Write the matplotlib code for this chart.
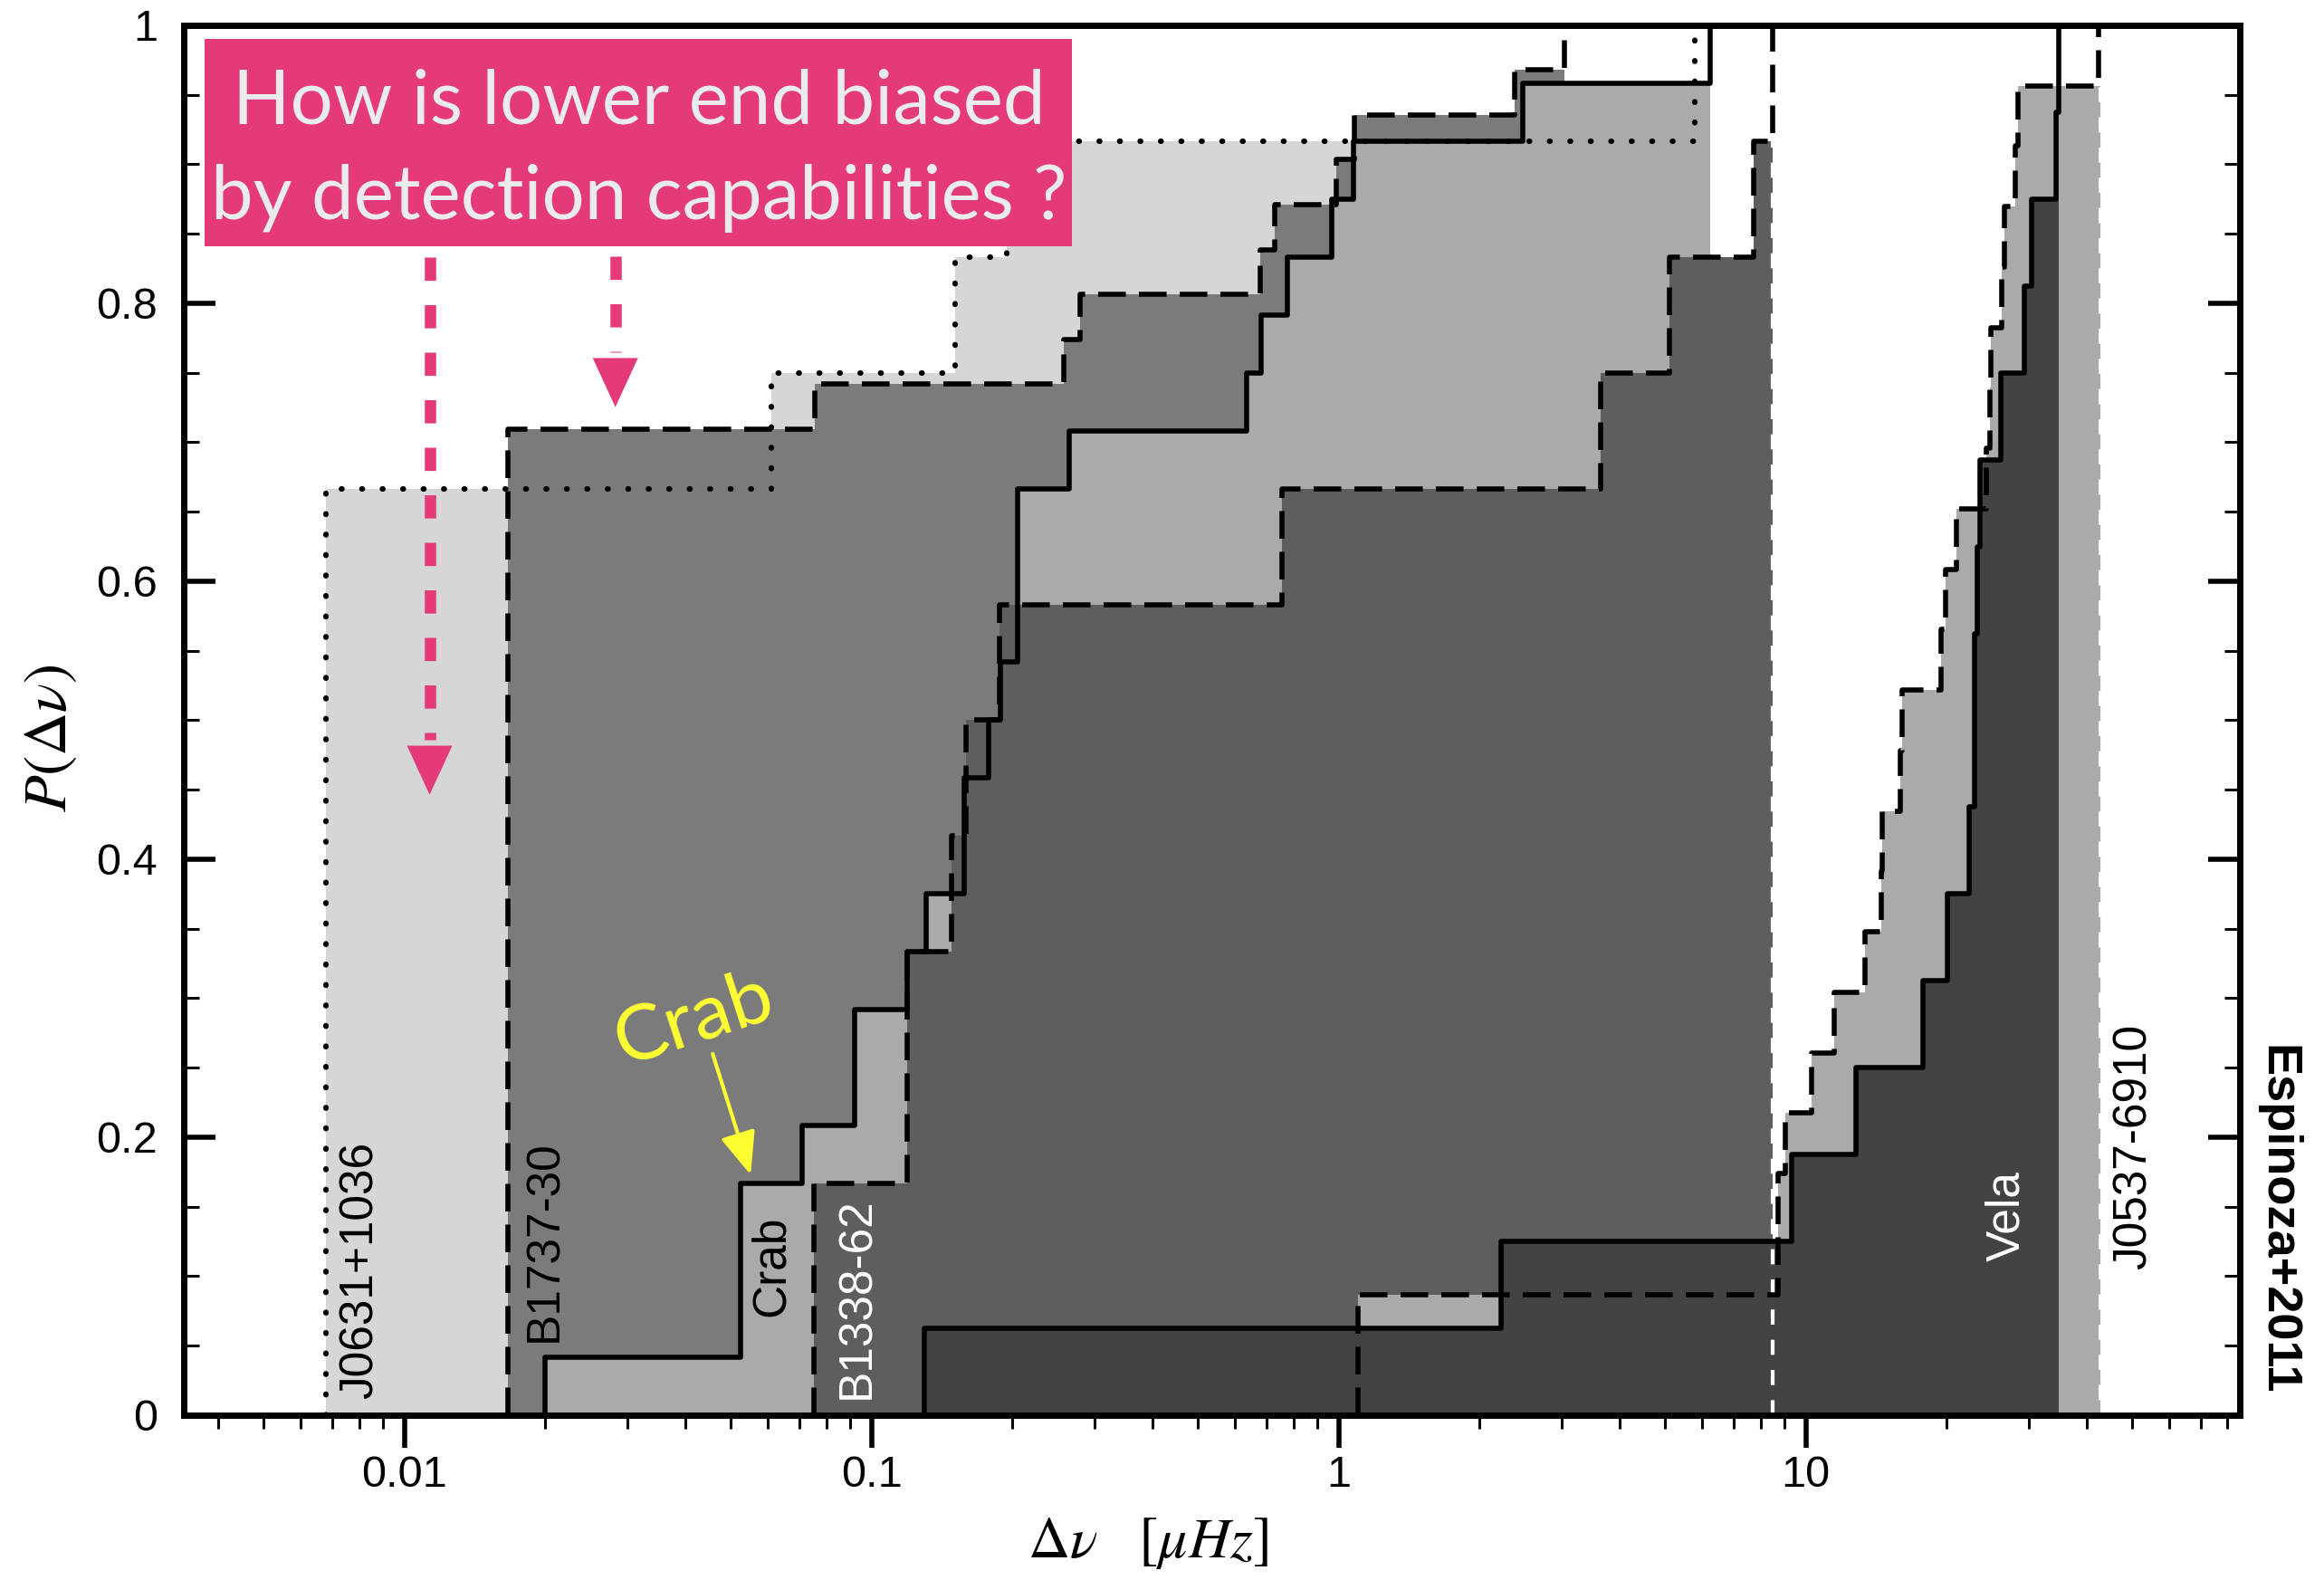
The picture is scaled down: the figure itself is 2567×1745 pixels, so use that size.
import numpy as np
import matplotlib
matplotlib.use("Agg")
import matplotlib.pyplot as plt
from matplotlib.ticker import MultipleLocator, LogLocator, NullFormatter, FuncFormatter
from matplotlib.patches import Rectangle

# glitch size (microHz) at each step of the cumulative distribution,
# the glitch count reached at that step, and the total count per pulsar
j0631_x = [0.0068, 0.061, 0.1507, 0.195, 5.78]
j0631_n = [8, 9, 10, 11, 12]
j0631_tot = 12

b1737_x = [0.01664, 0.0755, 0.2576, 0.279, 0.68, 0.729, 0.99, 1.082, 2.384, 3.04]
b1737_n = [22, 23, 24, 25, 26, 27, 28, 29, 30, 31]
b1737_tot = 31

crab_x = [0.020, 0.0524, 0.0709, 0.092, 0.119, 0.1307, 0.158, 0.178, 0.189, 0.2054,
          0.2647, 0.634, 0.682, 0.775, 0.968, 1.074, 2.475, 6.25]
crab_n = [1, 4, 5, 7, 8, 9, 11, 12, 13, 16, 17, 18, 19, 20, 21, 22, 23, 24]
crab_tot = 24

b1338_x = [0.0754, 0.119, 0.1485, 0.1595, 0.188, 0.757, 3.64, 5.1, 7.74, 8.51]
b1338_n = [2, 4, 5, 6, 7, 8, 9, 10, 11, 12]
b1338_tot = 12

j0537_x = [1.10, 8.74, 9.03, 10.3, 11.5, 13.4, 14.5, 14.6, 15.95, 16.06, 19.5, 19.94,
           21.0, 24.4, 24.75, 24.93, 26.27, 26.67, 28.09, 28.5, 42.3]
j0537_n = [2, 4, 5, 6, 7, 8, 9, 10, 11, 12, 13, 14, 15, 16, 17, 18, 19, 20, 21, 22, 23]
j0537_tot = 23

vela_x = [0.13, 2.23, 9.33, 12.82, 17.8, 20.1, 22.4, 23.0, 23.3, 23.6, 26.2, 29.4,
          30.5, 34.4, 34.75]
vela_n = [1, 2, 3, 4, 5, 6, 7, 9, 10, 11, 12, 13, 14, 15, 16]
vela_tot = 16

xticks = [0.01, 0.1, 1, 10]
xticklabels = ['0.01', '0.1', '1', '10']

plt.rcParams['font.family'] = ['Liberation Sans', 'DejaVu Sans']
plt.rcParams['mathtext.fontset'] = 'stix'

pink = '#e43a7a'
yellow = '#ffff33'

fig = plt.figure(figsize=(25.67, 17.45), dpi=100)
ax = fig.add_axes([0.0791, 0.1043, 0.8847, 0.8797])
ax.set_xscale('log')
ax.set_xlim(0.00337, 85)
ax.set_ylim(0, 1)

dots = (0, (0.1, 3.6))
dashes = (0, (5.5, 2.6))

series = [
    (j0631_x, j0631_n, j0631_tot, '#d6d6d6', dots),
    (b1737_x, b1737_n, b1737_tot, '#7b7b7b', dashes),
    (crab_x, crab_n, crab_tot, '#aaaaaa', '-'),
    (b1338_x, b1338_n, b1338_tot, '#5e5e5e', dashes),
    (j0537_x, j0537_n, j0537_tot, '#aaaaaa', dashes),
    (vela_x, vela_n, vela_tot, '#434343', '-'),
]

for i, (x, n, tot, fc, ls) in enumerate(series):
    x = np.array(x)
    p = np.array(n) / tot
    ax.fill_between(x, 0, p, step='post', facecolor=fc, linewidth=0, zorder=1 + 0.1 * i)

# fill edges drawn dashed like the original
b1338_p = np.array(b1338_n) / b1338_tot
ax.plot([b1338_x[-1], b1338_x[-1]], [0, b1338_p[-2]], color='white', lw=3.0,
        ls=(0, (4, 4)), zorder=2)
j0537_p = np.array(j0537_n) / j0537_tot
ax.plot([j0537_x[-1], j0537_x[-1]], [0, j0537_p[-2]], color='#aaaaaa', lw=3.0,
        ls=(0, (4, 4)), zorder=2)

for i, (x, n, tot, fc, ls) in enumerate(series):
    p = np.array(n) / tot
    xl = np.r_[x[0], x]
    yl = np.r_[0, p]
    lw = 4.4 if ls == dots else 4.0
    line, = ax.plot(xl, yl, drawstyle='steps-post', color='black', lw=lw, ls=ls,
                    zorder=3 + 0.1 * i)
    if ls == dots:
        line.set_dash_capstyle('round')

# pulsar names
lab = dict(rotation=90, ha='center', va='bottom', fontsize=37, zorder=5)
ax.text(0.00804, 0.012, 'J0631+1036', color='black', **lab)
ax.text(0.0200, 0.053, 'B1737-30', color='black', **lab)
ax.text(0.0611, 0.071, 'Crab', color='black', **lab)
ax.text(0.0932, 0.012, 'B1338-62', color='white', **lab)
ax.text(26.9, 0.111, 'Vela', color='white', **lab)
ax.text(50.4, 0.105, 'J0537-6910', color='black', **lab)

# axes styling
for s in ax.spines.values():
    s.set_linewidth(5)
ax.set_xticks(xticks)
ax.set_xticklabels(xticklabels)
ax.xaxis.set_minor_locator(LogLocator(base=10, subs=np.arange(2, 10)))
ax.xaxis.set_minor_formatter(NullFormatter())
ax.yaxis.set_major_locator(MultipleLocator(0.2))
ax.yaxis.set_minor_locator(MultipleLocator(0.05))
ax.yaxis.set_major_formatter(FuncFormatter(lambda v, _: '%g' % v))
ax.tick_params(axis='x', which='both', direction='out', top=False, bottom=True)
ax.tick_params(axis='x', which='major', length=26, width=4, pad=6, labelsize=35)
ax.tick_params(axis='x', which='minor', length=11, width=2.2)
ax.tick_params(axis='y', which='both', direction='in', left=True, right=True)
ax.tick_params(axis='y', which='major', length=25, width=4, pad=21, labelsize=35)
ax.tick_params(axis='y', which='minor', length=12, width=2.2)

ax.set_xlabel(r'$\Delta\nu\quad[\mu Hz]$', fontsize=46)
ax.xaxis.set_label_coords(0.469, -0.072)
ax.set_ylabel(r'$P(\Delta\nu)$', fontsize=48)
ax.yaxis.set_label_coords(-0.051, 0.487)

# question box
ax.add_patch(Rectangle((0.0101, 0.841), 0.4219, 0.149, transform=ax.transAxes,
                       facecolor=pink, edgecolor='none', zorder=10, clip_on=False))
box_txt = dict(transform=ax.transAxes, ha='center', va='baseline', color='#ebebeb',
               fontsize=60, family=['Lato', 'DejaVu Sans'], zorder=11)
ax.text(0.2215, 0.929, 'How is lower end biased', **box_txt)
ax.text(0.2215, 0.8606, 'by detection capabilities ?', **box_txt)

# pink dashed arrows
for xa, ytail, ybase, ytip in [(0.01132, 0.833, 0.486, 0.4464), (0.02828, 0.834, 0.765, 0.7253)]:
    ax.plot([xa, xa], [ytail, ybase], color=pink, lw=9, ls=(0, (2.05, 2.15)),
            solid_capstyle='butt', zorder=8)
    ax.annotate('', xy=(xa, ytip), xytext=(xa, ybase + 0.01),
                arrowprops=dict(arrowstyle='-|>,head_length=3.9,head_width=1.8',
                                color=pink, lw=0, shrinkA=0, shrinkB=0), zorder=8)

# Crab callout
ax.text(0.0417, 0.285, 'Crab', rotation=18, ha='center', va='center', color=yellow,
        fontsize=62, family=['Lato', 'DejaVu Sans'], zorder=8)
ax.annotate('', xy=(0.0551, 0.173), xytext=(0.0457, 0.26),
            arrowprops=dict(arrowstyle='-|>,head_length=2.9,head_width=1.2',
                            color=yellow, lw=3, shrinkA=0, shrinkB=0), zorder=8)

fig.text(0.9798, 0.228, 'Espinoza+2011', rotation=270, ha='center', va='center',
         fontsize=39, fontweight='bold',
         family=['Liberation Sans Narrow', 'Liberation Sans', 'DejaVu Sans'])

fig.savefig('out.png', dpi=100, facecolor='white')
